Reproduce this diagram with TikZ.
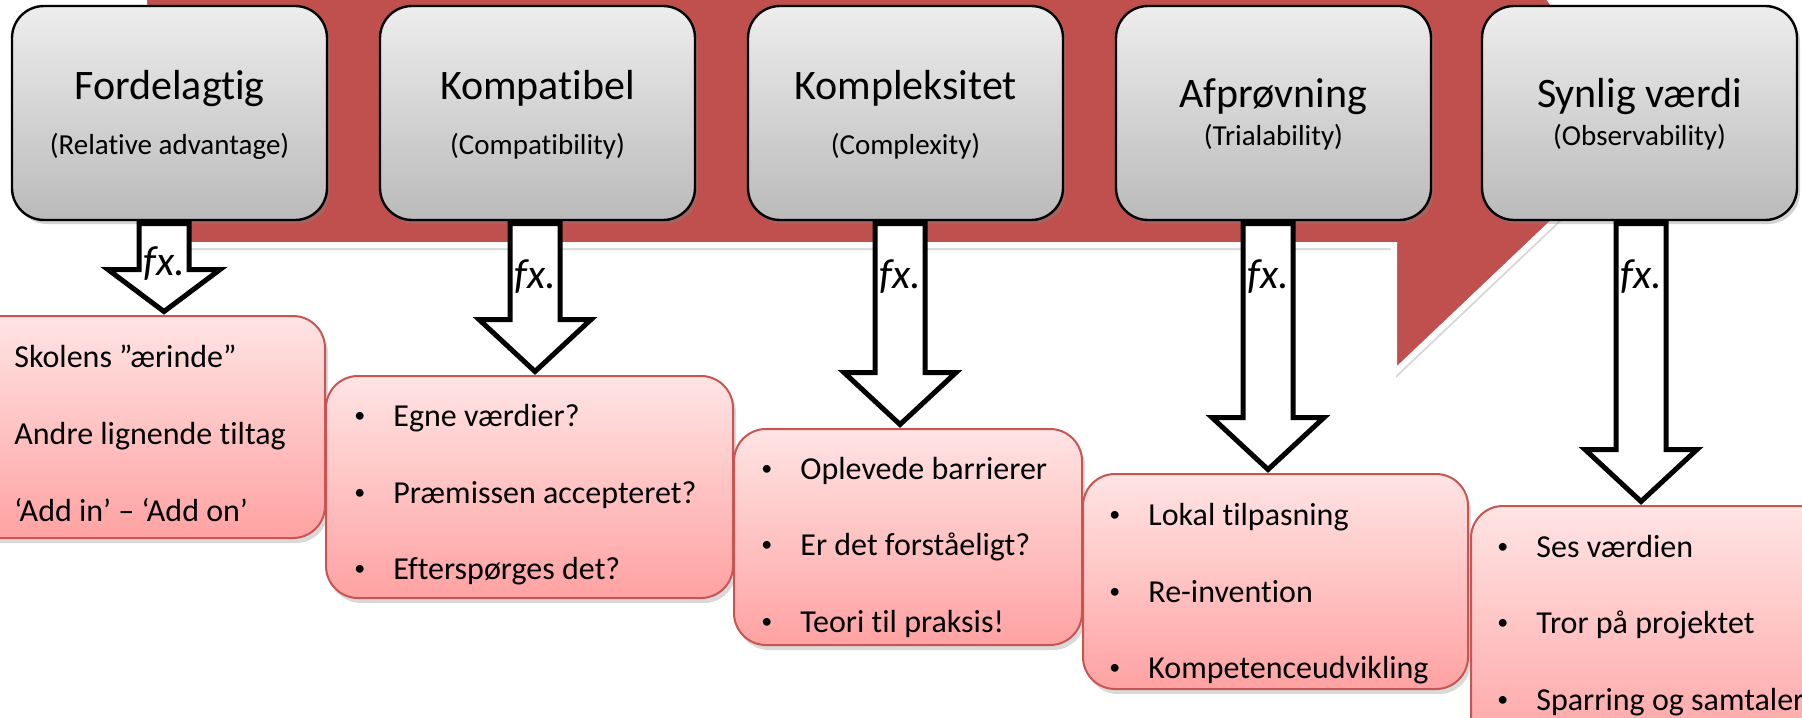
\documentclass[tikz,border=0pt]{standalone}
\usepackage{fontspec}
\setmainfont[Ligatures=NoCommon]{Carlito}
\usetikzlibrary{calc,shadows}

\definecolor{bgred}{RGB}{192,80,77}
\definecolor{pinktop}{RGB}{255,228,228}
\definecolor{pinkbot}{RGB}{255,162,162}
\definecolor{pinkline}{RGB}{200,85,82}

\newcommand\pkt{\llap{\raisebox{1.6pt}{\fontsize{11}{11}\selectfont\textbullet}\hspace{14pt}}}
\newcommand\fxarrow[5]{%
  \coordinate (#1top) at ($(#1.south)+(#3,2.5)$);
  \coordinate (#1tipx) at (#1top |- #2.north);
  \coordinate (#1tip) at ($(#1tipx)+(0,-3.5)$);
  \coordinate (#1sh) at ($(#1tip)+(0,-#4)$);
  \draw[blockarrow] ($(#1top)+(-25,0)$) -- ($(#1top)+(25,0)$) -- ($(#1sh)+(25,0)$)
    -- ($(#1sh)+(56,0)$) -- (#1tip) -- ($(#1sh)+(-56,0)$) -- ($(#1sh)+(-25,0)$) -- cycle;
  \node[fxlabel] (#1fx) at ($(#1top)+(0,#5)$) {fx.};
}

\tikzset{
  factor/.style={draw=black, line width=1.2pt, rounded corners=16pt,
    top color=black!7, bottom color=black!27, inner sep=0pt,
    minimum width=157.5pt, minimum height=107pt,
    drop shadow={shadow xshift=1.5pt, shadow yshift=-2pt, opacity=0.35}},
  factortitle/.style={anchor=base, font=\fontsize{21}{25}\selectfont},
  factorsub/.style={anchor=base, font=\fontsize{14.5}{17}\selectfont},
  example/.style={draw=pinkline, line width=1pt, rounded corners=16pt,
    top color=pinktop, bottom color=pinkbot, inner sep=0pt,
    drop shadow={shadow xshift=1.5pt, shadow yshift=-2.5pt, opacity=0.3}},
  exline/.style={anchor=base west, font=\fontsize{16}{19}\selectfont, inner sep=0pt},
  blockarrow/.style={draw=black, line width=2.5pt, fill=white, miter limit=10},
  fxlabel/.style={font=\fontsize{21}{21}\itshape, inner sep=0pt}
}

\begin{document}
\begin{tikzpicture}[x=0.5pt, y=-0.5pt]
    \useasboundingbox (0,0) rectangle (1802,717);
    \draw[fill=bgred, draw=white, line width=3pt,
      drop shadow={shadow xshift=1pt, shadow yshift=-2.5pt, opacity=0.3}]
      (144,-30) -- (144,245) -- (1394,245) -- (1394,373) -- (1650,130) -- (1535,-20) -- cycle;

    \node[example, minimum width=182.5pt, minimum height=111pt] (p1) at (142.5,427) {};
    \node[example, minimum width=203.5pt, minimum height=111pt] (p2) at (529.5,487) {};
    \node[example, minimum width=174pt, minimum height=108pt] (p3) at (908,537) {};
    \node[example, minimum width=192.5pt, minimum height=107.5pt] (p4) at (1275.5,581.5) {};
    \node[example, minimum width=189.5pt, minimum height=127pt] (p5) at (1660.5,633) {};

    \node[factor] (g1) at (169.5,113) {};
    \node[factor] (g2) at (537.5,113) {};
    \node[factor] (g3) at (905.5,113) {};
    \node[factor] (g4) at (1273.5,113) {};
    \node[factor] (g5) at (1639.5,113) {};

    \node[factortitle] (g1a) at (169.5,99) {Fordelagtig};
    \node[factorsub] (g1b) at (169.5,154) {(Relative advantage)};
    \node[factortitle] (g2a) at (537.5,99) {Kompatibel};
    \node[factorsub] (g2b) at (537.5,154) {(Compatibility)};
    \node[factortitle] (g3a) at (905.5,99) {Kompleksitet};
    \node[factorsub] (g3b) at (905.5,154) {(Complexity)};
    \node[factortitle] (g4a) at (1273.5,108) {Afprøvning};
    \node[factorsub] (g4b) at (1273.5,145) {(Trialability)};
    \node[factortitle] (g5a) at (1639.5,108) {Synlig værdi};
    \node[factorsub] (g5b) at (1639.5,145) {(Observability)};

    \fxarrow{g1}{p1}{-5.5}{42}{40}
    \fxarrow{g2}{p2}{-2.5}{52}{53}
    \fxarrow{g3}{p3}{-5.5}{52}{53}
    \fxarrow{g4}{p4}{-5.5}{52}{53}
    \fxarrow{g5}{p5}{1.5}{52}{53}

    \node[exline] (p1a) at (14,367) {Skolens ”ærinde”};
    \node[exline] (p1b) at (14,444) {Andre lignende tiltag};
    \node[exline] (p1c) at (14,521) {‘Add in’ – ‘Add on’};
    \node[exline] (p2a) at (393,426) {\pkt Egne værdier?};
    \node[exline] (p2b) at (393,503) {\pkt Præmissen accepteret?};
    \node[exline] (p2c) at (393,579) {\pkt Efterspørges det?};
    \node[exline] (p3a) at (800,479) {\pkt Oplevede barrierer};
    \node[exline] (p3b) at (800,555) {\pkt Er det forståeligt?};
    \node[exline] (p3c) at (800,632) {\pkt Teori til praksis!};
    \node[exline] (p4a) at (1148,525) {\pkt Lokal tilpasning};
    \node[exline] (p4b) at (1148,602) {\pkt Re-invention};
    \node[exline] (p4c) at (1148,678) {\pkt Kompetenceudvikling};
    \node[exline] (p5a) at (1536,557) {\pkt Ses værdien};
    \node[exline] (p5b) at (1536,633) {\pkt Tror på projektet};
    \node[exline] (p5c) at (1536,710) {\pkt Sparring og samtaler};
\end{tikzpicture}
\end{document}
